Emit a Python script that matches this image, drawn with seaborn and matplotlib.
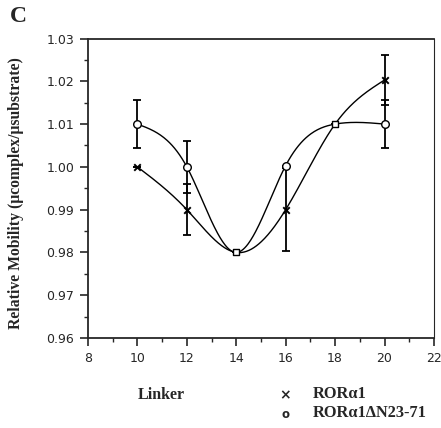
import numpy as np
import pandas as pd
import matplotlib
matplotlib.use("Agg")
import matplotlib.pyplot as plt
import seaborn as sns
from matplotlib.ticker import MultipleLocator

# Data
linker = [10, 12, 14, 16, 18, 20]
ror_a1 = [1.000, 0.990, 0.980, 0.990, 1.010, 1.0203]
ror_a1_err = [0.0, 0.006, 0.0, 0.0097, 0.0, 0.0058]
ror_dn = [1.010, 1.000, 0.980, 1.0003, 1.010, 1.010]
ror_dn_err = [0.0057, 0.006, 0.0, 0.0, 0.0, 0.0056]

series_names = ["ROR\u03b11", "ROR\u03b11\u0394N23-71"]


def natural_spline(x, y, n=300):
    # natural cubic spline through the points, for the smooth connecting line
    x = np.asarray(x, float)
    y = np.asarray(y, float)
    k = len(x)
    h = np.diff(x)
    A = np.zeros((k, k))
    b = np.zeros(k)
    A[0, 0] = A[-1, -1] = 1
    for i in range(1, k - 1):
        A[i, i - 1] = h[i - 1]
        A[i, i] = 2 * (h[i - 1] + h[i])
        A[i, i + 1] = h[i]
        b[i] = 6 * ((y[i + 1] - y[i]) / h[i] - (y[i] - y[i - 1]) / h[i - 1])
    M = np.linalg.solve(A, b)
    xs = np.linspace(x[0], x[-1], n)
    idx = np.clip(np.searchsorted(x, xs) - 1, 0, k - 2)
    x0, x1 = x[idx], x[idx + 1]
    hh = x1 - x0
    t0 = x1 - xs
    t1 = xs - x0
    ys = (M[idx] * t0 ** 3 / (6 * hh) + M[idx + 1] * t1 ** 3 / (6 * hh)
          + (y[idx] / hh - M[idx] * hh / 6) * t0
          + (y[idx + 1] / hh - M[idx + 1] * hh / 6) * t1)
    return xs, ys


sns.set_style("ticks")
plt.rcParams['font.family'] = ['DejaVu Sans']

fig = plt.figure(figsize=(4.41, 4.28), dpi=100)
ax = fig.add_axes([0.1995, 0.2103, 0.7845, 0.6997])

curves = []
for name, vals in zip(series_names, [ror_a1, ror_dn]):
    xs, ys = natural_spline(linker, vals)
    curves.append(pd.DataFrame({"Linker": xs, "Mobility": ys, "series": name}))
curves = pd.concat(curves)
sns.lineplot(data=curves, x="Linker", y="Mobility", units="series", estimator=None,
             color="black", lw=1.0, ax=ax, legend=False, sort=False)

ax.errorbar(linker, ror_a1, yerr=ror_a1_err, fmt="none", ecolor="black",
            elinewidth=1.3, capsize=2.6, capthick=1.3, zorder=3)
ax.errorbar(linker, ror_dn, yerr=ror_dn_err, fmt="none", ecolor="black",
            elinewidth=1.3, capsize=2.6, capthick=1.3, zorder=3)

pts = pd.DataFrame({"Linker": linker, "a1": ror_a1, "dn": ror_dn})
same = pts[np.isclose(pts["a1"], pts["dn"], atol=1e-4)]
diff = pts[~np.isclose(pts["a1"], pts["dn"], atol=1e-4)]
sns.scatterplot(data=diff, x="Linker", y="a1", marker="x", s=22, color="black",
                linewidth=1.4, ax=ax, zorder=5, legend=False)
sns.scatterplot(data=diff, x="Linker", y="dn", marker="o", s=30, facecolor="white",
                edgecolor="black", linewidth=1.0, ax=ax, zorder=5, legend=False)
sns.scatterplot(data=same, x="Linker", y="dn", marker="s", s=22, facecolor="white",
                edgecolor="black", linewidth=1.0, ax=ax, zorder=5, legend=False)

ax.set_xlim(8, 22)
ax.set_ylim(0.96, 1.03)
ax.xaxis.set_major_locator(MultipleLocator(2))
ax.xaxis.set_minor_locator(MultipleLocator(1))
ax.yaxis.set_major_locator(MultipleLocator(0.01))
ax.yaxis.set_minor_locator(MultipleLocator(0.005))
ax.yaxis.set_major_formatter(plt.FormatStrFormatter("%.2f"))
ax.tick_params(which="major", direction="out", length=6, width=1.2, labelsize=9, pad=4)
ax.tick_params(which="minor", direction="out", length=3, width=1.0)
for s in ax.spines.values():
    s.set_visible(True)
    s.set_linewidth(1.3)
ax.spines["right"].set_linewidth(0.8)

ax.set_xlabel("")
ax.set_ylabel("")
serif = dict(family="Liberation Serif", fontweight="bold")
fig.text(16 / 441, 1 - 193 / 428, "Relative Mobility (\u03bccomplex/\u03bcsubstrate)",
         rotation=90, ha="center", va="center", fontsize=11.3, **serif)
fig.text(161 / 441, 1 - 395 / 428, "Linker", ha="center", va="center", fontsize=11.5, **serif)
fig.text(10 / 441, 1 - 17 / 428, "C", ha="left", va="center", fontsize=17, **serif)

fig.text(285 / 441, 1 - 395 / 428, "\u00d7", ha="center", va="center", fontsize=10,
         fontweight="bold")
fig.text(285 / 441, 1 - 414 / 428, "o", ha="center", va="center", fontsize=8.5,
         fontweight="bold")
fig.text(313 / 441, 1 - 394 / 428, series_names[0], ha="left", va="center",
         fontsize=11.8, **serif)
fig.text(313 / 441, 1 - 413 / 428, series_names[1], ha="left", va="center",
         fontsize=11.8, **serif)

fig.savefig("out.png", dpi=100)
